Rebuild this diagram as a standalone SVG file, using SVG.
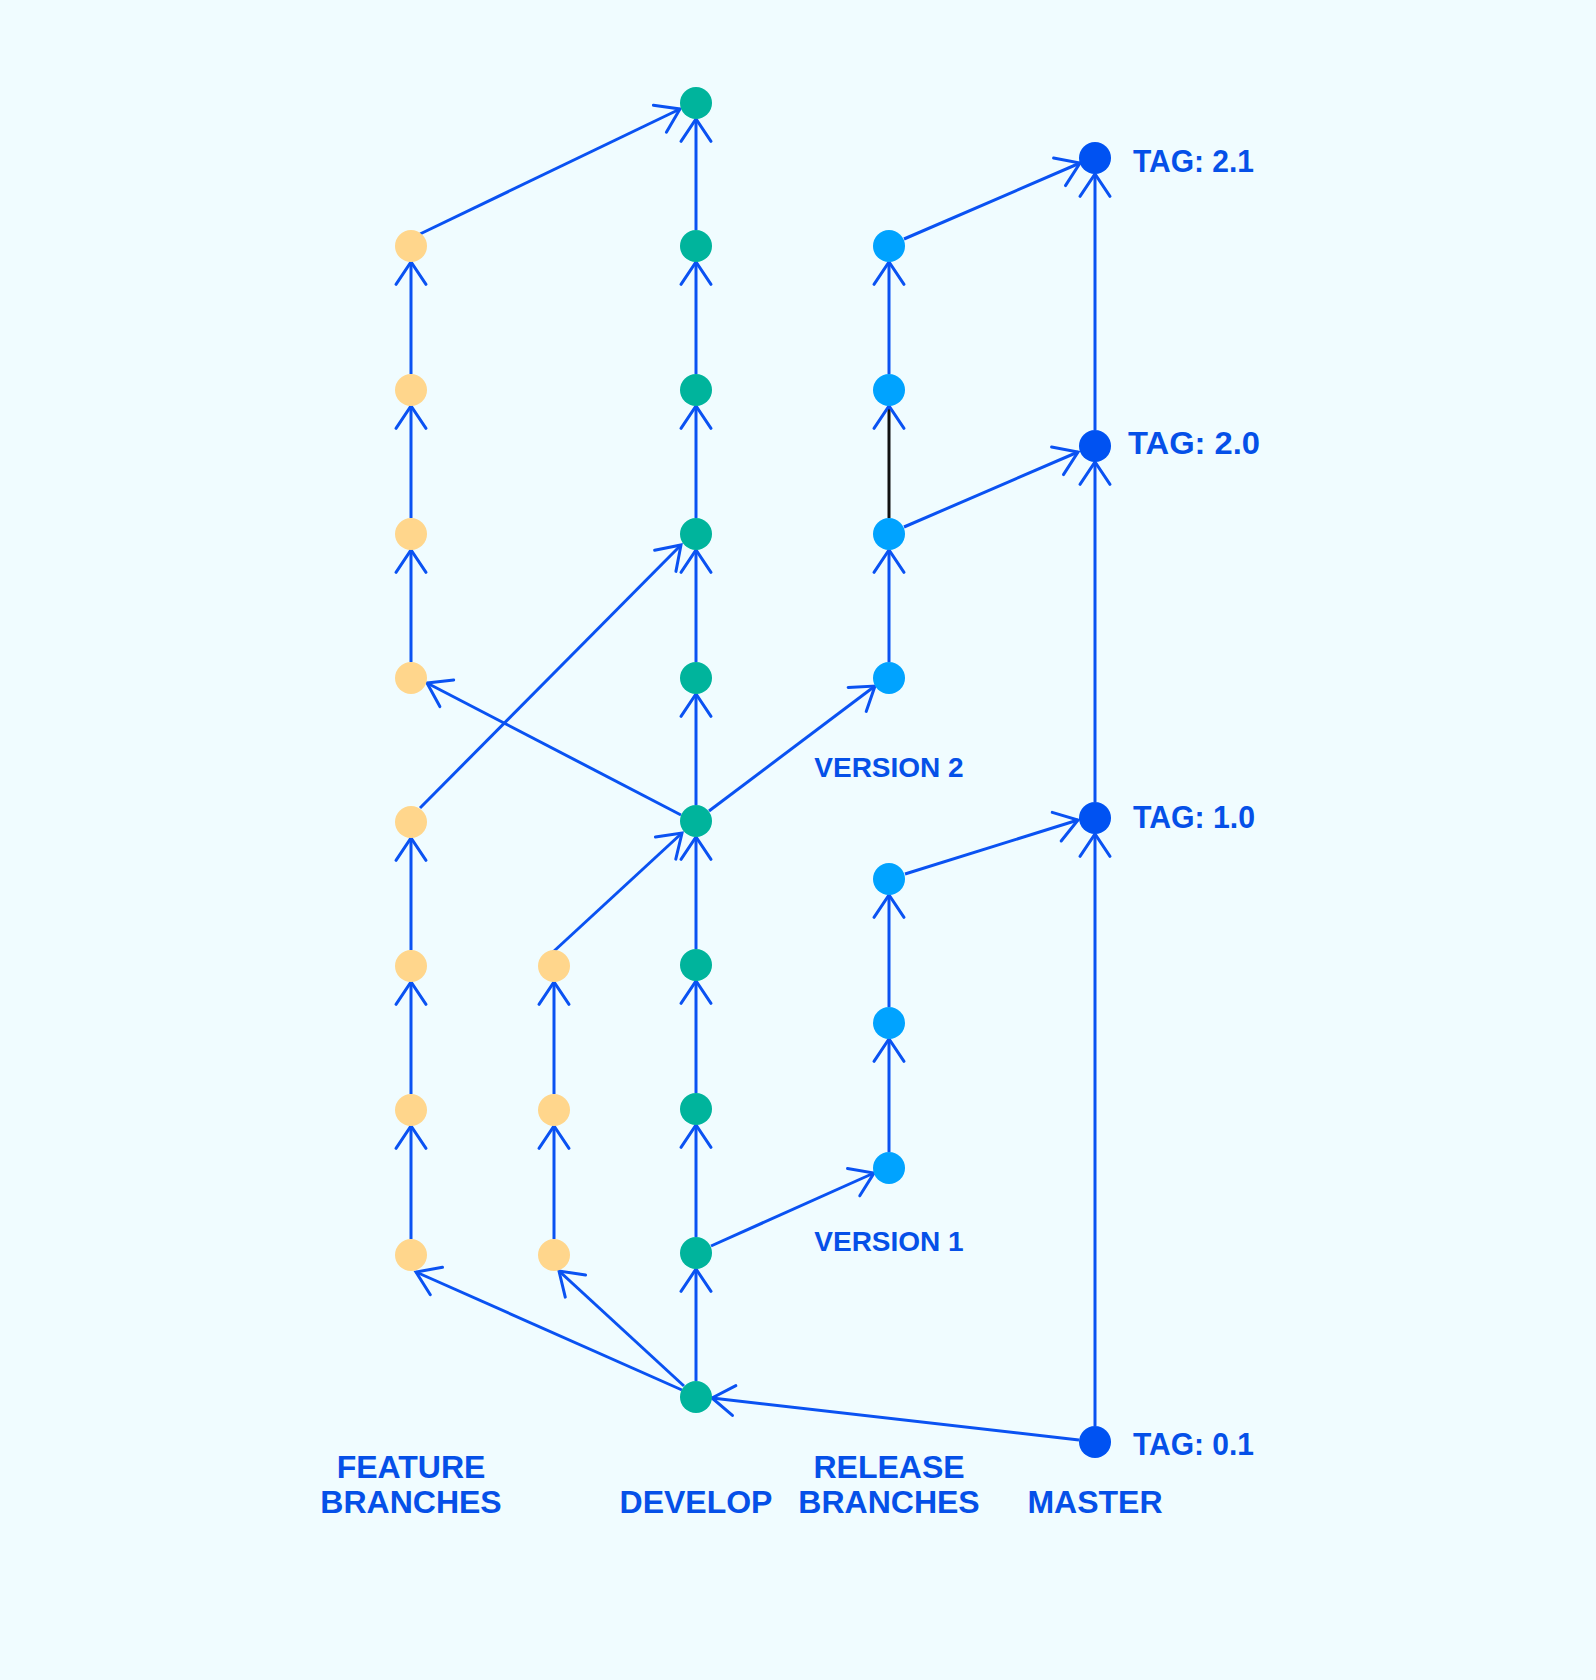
<svg xmlns="http://www.w3.org/2000/svg" width="1596" height="1680" viewBox="0 0 1596 1680">
<defs>
<style>
.c{stroke:#0A52F2;stroke-width:3;fill:none;marker-end:url(#ah)}
.k{stroke:#111111;stroke-width:3;fill:none;marker-end:url(#ah)}
.fe{fill:#FFD68C}
.dv{fill:#00B49C}
.rl{fill:#00A3FF}
.ms{fill:#0052F2}
text{font-family:"Liberation Sans",Arial,sans-serif;font-weight:700;fill:#0550E8}
.lb{font-size:32px;text-anchor:middle}
.tg{font-size:32px}
.vs{font-size:28px;text-anchor:middle}
</style>
<marker id="ah" markerUnits="userSpaceOnUse" markerWidth="40" markerHeight="40" viewBox="-30 -20 40 40" refX="0" refY="0" orient="auto" overflow="visible">
<path d="M-22.3,-15 L0,0 L-22.3,15" fill="none" stroke="#0A52F2" stroke-width="3" stroke-linecap="round"/>
</marker>
</defs>
<rect width="1596" height="1680" fill="#F0FCFF"/>
<g id="connectors">
<line class="c" x1="411" y1="1239" x2="411" y2="1126"/>
<line class="c" x1="411" y1="1094" x2="411" y2="982"/>
<line class="c" x1="411" y1="950" x2="411" y2="838"/>
<line class="c" x1="411" y1="662" x2="411" y2="550"/>
<line class="c" x1="411" y1="518" x2="411" y2="406"/>
<line class="c" x1="411" y1="374" x2="411" y2="262"/>
<line class="c" x1="554" y1="1239" x2="554" y2="1126"/>
<line class="c" x1="554" y1="1094" x2="554" y2="982"/>
<line class="c" x1="696" y1="1381" x2="696" y2="1269"/>
<line class="c" x1="696" y1="1237" x2="696" y2="1125"/>
<line class="c" x1="696" y1="1093" x2="696" y2="981"/>
<line class="c" x1="696" y1="949" x2="696" y2="837"/>
<line class="c" x1="696" y1="805" x2="696" y2="694"/>
<line class="c" x1="696" y1="662" x2="696" y2="550"/>
<line class="c" x1="696" y1="518" x2="696" y2="406"/>
<line class="c" x1="696" y1="374" x2="696" y2="262"/>
<line class="c" x1="696" y1="230" x2="696" y2="119"/>
<line class="c" x1="889" y1="1152" x2="889" y2="1039"/>
<line class="c" x1="889" y1="1007" x2="889" y2="895"/>
<line class="c" x1="889" y1="662" x2="889" y2="550"/>
<line class="k" x1="889" y1="518" x2="889" y2="406"/>
<line class="c" x1="889" y1="374" x2="889" y2="262"/>
<line class="c" x1="1095" y1="1426" x2="1095" y2="834"/>
<line class="c" x1="1095" y1="802" x2="1095" y2="462"/>
<line class="c" x1="1095" y1="430" x2="1095" y2="174"/>
<line class="c" x1="1079" y1="1440" x2="712" y2="1398"/>
<line class="c" x1="682" y1="1390" x2="416" y2="1272"/>
<line class="c" x1="684" y1="1386" x2="559" y2="1271"/>
<line class="c" x1="711" y1="1246" x2="874" y2="1173"/>
<line class="c" x1="905" y1="874" x2="1078" y2="820"/>
<line class="c" x1="553" y1="952" x2="682" y2="833"/>
<line class="c" x1="681" y1="815" x2="427" y2="683"/>
<line class="c" x1="420" y1="808" x2="681" y2="545"/>
<line class="c" x1="709" y1="811" x2="875" y2="686"/>
<line class="c" x1="904" y1="527" x2="1078" y2="452"/>
<line class="c" x1="904" y1="239" x2="1080" y2="163"/>
<line class="c" x1="420" y1="234" x2="680" y2="109"/>
</g>
<g id="feature">
<circle id="f1" class="fe" cx="411" cy="1255" r="16"/>
<circle id="f2" class="fe" cx="411" cy="1110" r="16"/>
<circle id="f3" class="fe" cx="411" cy="966" r="16"/>
<circle id="f4" class="fe" cx="411" cy="822" r="16"/>
<circle id="f5" class="fe" cx="411" cy="678" r="16"/>
<circle id="f6" class="fe" cx="411" cy="534" r="16"/>
<circle id="f7" class="fe" cx="411" cy="390" r="16"/>
<circle id="f8" class="fe" cx="411" cy="246" r="16"/>
<circle id="g1" class="fe" cx="554" cy="1255" r="16"/>
<circle id="g2" class="fe" cx="554" cy="1110" r="16"/>
<circle id="g3" class="fe" cx="554" cy="966" r="16"/>
</g>
<g id="develop">
<circle id="d0" class="dv" cx="696" cy="1397" r="16"/>
<circle id="d1" class="dv" cx="696" cy="1253" r="16"/>
<circle id="d2" class="dv" cx="696" cy="1109" r="16"/>
<circle id="d3" class="dv" cx="696" cy="965" r="16"/>
<circle id="d4" class="dv" cx="696" cy="821" r="16"/>
<circle id="d5" class="dv" cx="696" cy="678" r="16"/>
<circle id="d6" class="dv" cx="696" cy="534" r="16"/>
<circle id="d7" class="dv" cx="696" cy="390" r="16"/>
<circle id="d8" class="dv" cx="696" cy="246" r="16"/>
<circle id="d9" class="dv" cx="696" cy="103" r="16"/>
</g>
<g id="release">
<circle id="r1" class="rl" cx="889" cy="1168" r="16"/>
<circle id="r2" class="rl" cx="889" cy="1023" r="16"/>
<circle id="r3" class="rl" cx="889" cy="879" r="16"/>
<circle id="r4" class="rl" cx="889" cy="678" r="16"/>
<circle id="r5" class="rl" cx="889" cy="534" r="16"/>
<circle id="r6" class="rl" cx="889" cy="390" r="16"/>
<circle id="r7" class="rl" cx="889" cy="246" r="16"/>
</g>
<g id="master">
<circle id="m0" class="ms" cx="1095" cy="1442" r="16"/>
<circle id="m1" class="ms" cx="1095" cy="818" r="16"/>
<circle id="m2" class="ms" cx="1095" cy="446" r="16"/>
<circle id="m3" class="ms" cx="1095" cy="158" r="16"/>
</g>
<g id="labels">
<text class="tg" x="1133" y="172" textLength="121" lengthAdjust="spacingAndGlyphs">TAG: 2.1</text>
<text class="tg" x="1128" y="454" textLength="132" lengthAdjust="spacingAndGlyphs">TAG: 2.0</text>
<text class="tg" x="1133" y="828" textLength="122" lengthAdjust="spacingAndGlyphs">TAG: 1.0</text>
<text class="tg" x="1133" y="1455" textLength="121" lengthAdjust="spacingAndGlyphs">TAG: 0.1</text>
<text class="vs" x="889" y="777">VERSION 2</text>
<text class="vs" x="889" y="1251">VERSION 1</text>
<text class="lb" x="411" y="1478">FEATURE</text>
<text class="lb" x="411" y="1513">BRANCHES</text>
<text class="lb" x="696" y="1513">DEVELOP</text>
<text class="lb" x="889" y="1478">RELEASE</text>
<text class="lb" x="889" y="1513">BRANCHES</text>
<text class="lb" x="1095" y="1513">MASTER</text>
</g>
</svg>
